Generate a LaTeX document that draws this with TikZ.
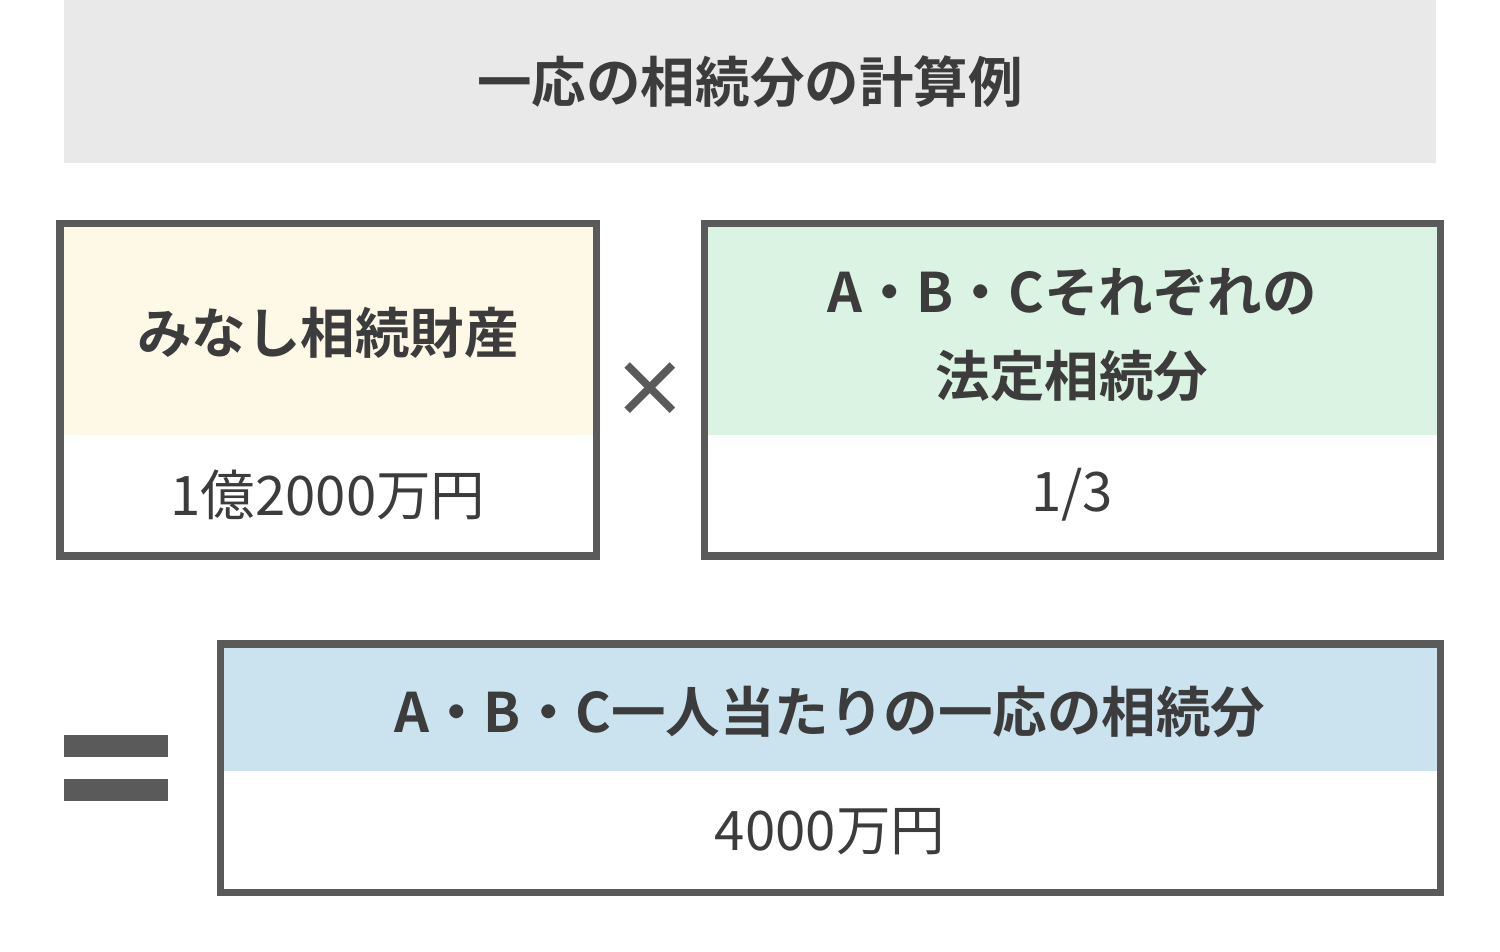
\documentclass[tikz,border=0pt]{standalone}
\usepackage{fontspec}
\setmainfont{Noto Sans CJK JP}[BoldFont={* Bold}]
\definecolor{frame}{HTML}{5A5A5A}
\definecolor{txt}{HTML}{3C3C3C}
\definecolor{titlebg}{HTML}{E9E9E9}
\definecolor{yellowbg}{HTML}{FEF8E7}
\definecolor{greenbg}{HTML}{DAF3E2}
\definecolor{bluebg}{HTML}{CBE3EF}
\tikzset{
    head/.style={text=txt,font=\fontsize{15.5}{24}\selectfont\bfseries,align=center},
    value/.style={text=txt,font=\fontsize{15.5}{22}\selectfont},
    boxframe/.style={draw=frame,line width=0.07cm},
  }
\begin{document}
\begin{tikzpicture}[x=0.01cm,y=-0.01cm]
				  \useasboundingbox (0,0) rectangle (1500,952);
				  % title band
				  \fill[titlebg] (64,0) rectangle (1436,163);
				  \node[head] (title) at (750,82) {一応の相続分の計算例};
				  % first box
				  \fill[yellowbg] (60,224) rectangle (596,435);
				  \draw[boxframe] (60,224) rectangle (596,556);
				  \node[head] (estate) at (328,333) {みなし相続財産};
				  \node[value] (estateval) at (328,495) {1億2000万円};
				  % times
				  \node[text=frame,font=\fontsize{22}{22}\selectfont\bfseries] (times) at (650,390) {×};
				  % second box
				  \fill[greenbg] (704,224) rectangle (1440,435);
				  \draw[boxframe] (704,224) rectangle (1440,556);
				  \node[head] (share) at (1072,335) {A・B・Cそれぞれの\\法定相続分};
				  \node[value] (shareval) at (1072,495) {1/3};
				  % equals
				  \fill[frame] (64,735) rectangle (168,757);
				  \fill[frame] (64,779) rectangle (168,801);
				  % result box
				  \fill[bluebg] (220,644) rectangle (1440,771);
				  \draw[boxframe] (220,644) rectangle (1440,892);
				  \node[head] (result) at (830,712) {A・B・C一人当たりの一応の相続分};
				  \node[value] (resultval) at (830,832) {4000万円};
\end{tikzpicture}
\end{document}
